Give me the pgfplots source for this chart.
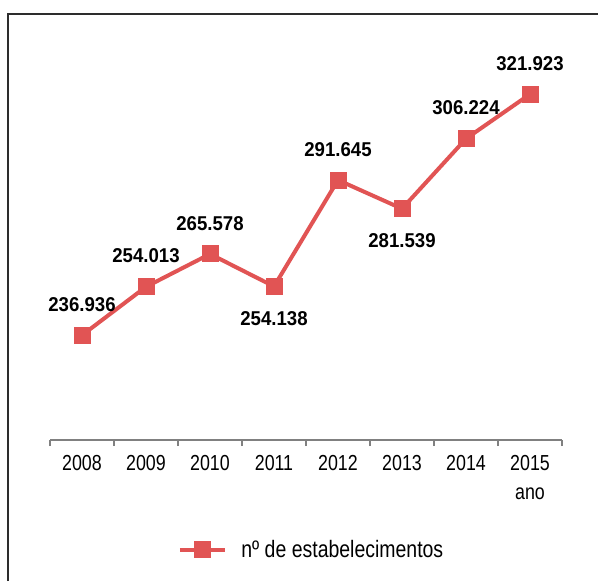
\documentclass[border=0pt]{standalone}
\usepackage{pgfplots}
\pgfplotsset{compat=1.18}
\usepackage{pgfplotstable}
\usepackage{fontspec}
\setmainfont{Liberation Sans}[FakeStretch=0.82]
\newfontfamily\lblfont{Liberation Sans}[FakeStretch=0.93]
\definecolor{linered}{RGB}{225,84,84}
\definecolor{axgray}{RGB}{128,128,128}
\definecolor{framegray}{RGB}{45,45,45}
\pgfplotstableread{
x y
0 236936
1 254013
2 265578
3 254138
4 291645
5 281539
6 306224
7 321923
}\datatable
\pgfplotstableread{
x y
0 236936
1 254013
2 265578
4 291645
6 306224
7 321923
}\abovetable
\pgfplotstableread{
x y
3 254138
5 281539
}\belowtable
\begin{document}
\begin{tikzpicture}
\useasboundingbox (0,0) rectangle (448.5pt,435.75pt);
\draw[framegray, line width=1.5pt] (6pt,0) -- (6pt,425.25pt) -- (448.5pt,425.25pt);
\begin{axis}[
  at={(37.5pt,105.75pt)}, anchor=south west,
  scale only axis, width=384pt, height=319.1pt,
  xmin=-0.5, xmax=7.5, ymin=200000, ymax=350000,
  hide y axis,
  axis x line=bottom,
  x axis line style={-, axgray, line width=0.9pt},
  xtick={0,...,7},
  xticklabels={2008,2009,2010,2011,2012,2013,2014,2015},
  major tick length=0pt,
  minor xtick={-0.5,0.5,...,7.5},
  minor tick length=4.5pt,
  tick align=outside,
  minor tick style={axgray, line width=0.9pt},
  xticklabel style={font=\fontsize{16.3}{18}\selectfont, yshift=-8pt},
  xlabel={ano},
  xlabel style={font=\fontsize{16.3}{18}\selectfont, at={(rel axis cs:0.9375,0)}, anchor=center, yshift=-40pt},
  clip=false,
  legend style={draw=none, fill=none, at={(rel axis cs:0.249,-0.2585)}, anchor=west,
    font=\fontsize{17.8}{20}\selectfont, inner sep=0pt,
    legend cell align=left},
  legend image code/.code={\draw[mark repeat=2,mark phase=2,#1] plot coordinates {(0pt,0pt) (16.9pt,0pt) (33.75pt,0pt)};},
  lbl/.style={draw=none, mark=none, forget plot, nodes near coords, point meta=y,
    every node near coord/.append style={anchor=center, black,
      font=\lblfont\bfseries\fontsize{15}{18}\selectfont,
      yshift=#1,
      /pgf/number format/.cd, fixed, precision=0, 1000 sep={.}, assume math mode=true}},
]
\addplot[linered, line width=3pt, mark=square*, mark size=6pt,
  mark options={solid, line width=0pt}] table[x=x, y=y] {\datatable};
\addlegendentry{\hspace{9pt}nº de estabelecimentos}
\addplot[lbl=23pt] table[x=x, y=y] {\abovetable};
\addplot[lbl=-24pt] table[x=x, y=y] {\belowtable};
\end{axis}
\end{tikzpicture}
\end{document}
